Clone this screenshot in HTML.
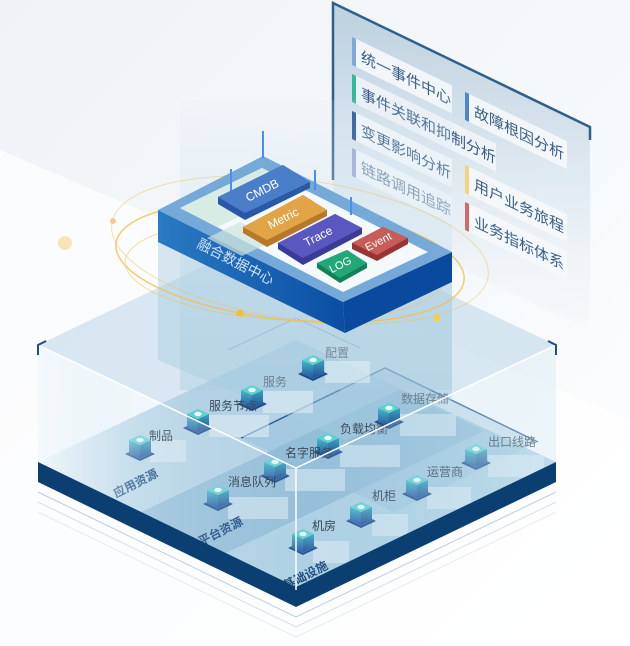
<!DOCTYPE html>
<html><head><meta charset="utf-8">
<style>
html,body{margin:0;padding:0;background:#fff;}
svg{display:block;font-family:"Liberation Sans","Noto Sans CJK SC",sans-serif;}
</style></head>
<body>
<svg width="630" height="646" viewBox="0 0 630 646" xmlns="http://www.w3.org/2000/svg">
<defs>
  <linearGradient id="bg" x1="0" y1="0" x2="1" y2="1">
    <stop offset="0" stop-color="#eef3f7"/><stop offset="0.6" stop-color="#f6f9fb"/><stop offset="1" stop-color="#ffffff"/>
  </linearGradient>
  <linearGradient id="panel" x1="0" y1="0" x2="0" y2="1">
    <stop offset="0" stop-color="#b3cadb"/><stop offset="0.6" stop-color="#e0eaf1"/><stop offset="1" stop-color="#f4f7fa" stop-opacity="0.6"/>
  </linearGradient>
  <linearGradient id="floor" x1="0" y1="0" x2="1" y2="0">
    <stop offset="0" stop-color="#d3e7f2"/><stop offset="0.3" stop-color="#a9cce1"/><stop offset="1" stop-color="#a3cbe0"/>
  </linearGradient>
  <linearGradient id="lface" x1="0" y1="0" x2="1" y2="0">
    <stop offset="0" stop-color="#f4f9fc" stop-opacity="0.9"/><stop offset="0.4" stop-color="#d6e8f2" stop-opacity="0.3"/><stop offset="1" stop-color="#c4deec" stop-opacity="0.1"/>
  </linearGradient>
  <linearGradient id="rface" x1="0" y1="0" x2="1" y2="0">
    <stop offset="0" stop-color="#a9cde2" stop-opacity="0.1"/><stop offset="1" stop-color="#d6ebf3" stop-opacity="0.45"/>
  </linearGradient>
  <linearGradient id="col" x1="0" y1="0" x2="0" y2="1">
    <stop offset="0" stop-color="#dbe9f3" stop-opacity="0.2"/><stop offset="0.5" stop-color="#c7dfee" stop-opacity="0.7"/><stop offset="1" stop-color="#a9cbe0" stop-opacity="0.7"/>
  </linearGradient>
  <linearGradient id="cubeS" x1="0" y1="0" x2="0" y2="1">
    <stop offset="0" stop-color="#45bcc4"/><stop offset="1" stop-color="#2a55a6"/>
  </linearGradient>
  <linearGradient id="cubeR" x1="0" y1="0" x2="0" y2="1">
    <stop offset="0" stop-color="#3aa6bb"/><stop offset="1" stop-color="#244c98"/>
  </linearGradient>
  <linearGradient id="hubL" x1="0" y1="0" x2="1" y2="0">
    <stop offset="0" stop-color="#2a7ac4"/><stop offset="1" stop-color="#0b4ea3"/>
  </linearGradient>
  <g id="node">
    <polygon points="-15,14 0,7 15,14 0,21" fill="#1b4a86"/>
    <polygon points="-13,13 0,7 13,13 0,19" fill="#2d67a6"/>
    <polygon points="-11,0 0,5 0,18 -11,13" fill="url(#cubeS)"/>
    <polygon points="0,5 11,0 11,13 0,18" fill="url(#cubeR)"/>
    <polygon points="-11,0 0,-5 11,0 0,5" fill="#5fd0d0"/>
    <ellipse cx="0" cy="0" rx="3.8" ry="2.2" fill="#eafbfb"/>
  </g>
</defs>

<rect width="630" height="646" fill="url(#bg)"/>
<polygon points="0,150 630,420 630,646 0,646" fill="#ffffff" opacity="0.7"/>

<g fill="none" stroke="#b8cfe0" stroke-width="1">
  <polyline points="38,492 296,617 556,492"/>
  <polyline points="38,502 296,627 556,502" opacity="0.6"/>
  <polyline points="38,512 296,637 556,512" opacity="0.35"/>
</g>

<path d="M333,3 L590,127 L590,310 Q590,330 572,322 L345,212 Q333,206 333,190 Z" fill="url(#panel)" opacity="0.85"/>
<path d="M333,180 L333,3 L590,127 L590,140" fill="none" stroke="#2f5f8c" stroke-width="2.5"/>
<g font-size="15" fill="#3a5f86">
  <g transform="translate(352,37) skewY(25.8)"><rect x="4" y="0" width="96" height="28" fill="#f5f8fb" opacity="0.9"/><rect width="4" height="28" fill="#7fa8dc"/><text x="9" y="20">统一事件中心</text></g>
  <g transform="translate(352,74) skewY(25.8)"><rect x="4" y="0" width="140" height="28" fill="#f5f8fb" opacity="0.75"/><rect width="4" height="28" fill="#35b898"/><text x="9" y="20">事件关联和抑制分析</text></g>
  <g transform="translate(352,111) skewY(25.8)"><rect x="4" y="0" width="96" height="28" fill="#f5f8fb" opacity="0.9"/><rect width="4" height="28" fill="#1d4fa0"/><text x="9" y="20">变更影响分析</text></g>
  <g transform="translate(352,148) skewY(25.8)"><rect x="4" y="0" width="96" height="28" fill="#f5f8fb" opacity="0.9"/><rect width="4" height="28" fill="#9aa6de"/><text x="9" y="20" fill="#6f8aa8">链路调用追踪</text></g>
  <g transform="translate(465,92) skewY(25.8)"><rect x="4" y="0" width="98" height="28" fill="#f5f8fb" opacity="0.9"/><rect width="4" height="28" fill="#4f86d0"/><text x="9" y="20">故障根因分析</text></g>
  <g transform="translate(465,165) skewY(25.8)"><rect x="4" y="0" width="98" height="28" fill="#f5f8fb" opacity="0.9"/><rect width="4" height="28" fill="#f0d57a"/><text x="9" y="20">用户业务旅程</text></g>
  <g transform="translate(465,202) skewY(25.8)"><rect x="4" y="0" width="98" height="28" fill="#f5f8fb" opacity="0.9"/><rect width="4" height="28" fill="#d06a6a"/><text x="9" y="20">业务指标体系</text></g>
</g>

<polygon points="38,345 296,222 556,345 296,468" fill="#c0d9e9" opacity="0.6"/>
<polygon points="38,462 296,340 556,462 296,587" fill="url(#floor)"/>
<polygon points="141,512 226,553 484,431 399,390" fill="#86b3d0" opacity="0.6"/>
<polygon points="38,462 141,512 399,390 296,340" fill="#c4dcea" opacity="0.4"/>
<polygon points="226,553 296,587 556,462 484,431" fill="#b4d6e8" opacity="0.5"/>
<polygon points="241,438 385,368 538,442 394,512" fill="#95bfd9" opacity="0.45"/>
<polyline points="241,438 385,368 538,442" fill="none" stroke="#2a5f92" stroke-width="1.5"/>
<polyline points="228,350 296,318 360,348" fill="none" stroke="#2a5f92" stroke-width="1" opacity="0.5"/>

<rect x="180" y="100" width="272" height="290" fill="url(#col)" opacity="0.6"/>
<polygon points="158,240 345,333 452,282 452,400 345,440 158,360" fill="#a9cbe0" opacity="0.45"/>

<g font-size="12" fill="#3b4b5c">
  <g fill="#e4f0f7" opacity="0.55">
    <rect x="325" y="361" width="45" height="22"/><rect x="263" y="391" width="50" height="22"/>
    <rect x="209" y="415" width="60" height="22"/><rect x="150" y="440" width="36" height="22"/>
    <rect x="400" y="414" width="56" height="22"/><rect x="340" y="445" width="60" height="22"/>
    <rect x="285" y="469" width="60" height="22"/><rect x="228" y="497" width="60" height="22"/>
    <rect x="488" y="455" width="56" height="22"/><rect x="427" y="487" width="44" height="22"/>
    <rect x="372" y="514" width="36" height="22"/><rect x="313" y="541" width="36" height="22"/>
  </g>
  <use href="#node" x="313" y="360"/><text x="325" y="357" fill="#7a8a9a">配置</text>
  <use href="#node" x="252" y="390"/><text x="263" y="386" fill="#6f8090">服务</text>
  <use href="#node" x="198" y="414"/><text x="209" y="410">服务节点</text>
  <use href="#node" x="140" y="440"/><text x="149" y="440" fill="#1f2d3a">制品</text>
  <use href="#node" x="389" y="408"/><text x="401" y="403" fill="#6f8090">数据存储</text>
  <use href="#node" x="328" y="438"/><text x="340" y="433">负载均衡</text>
  <use href="#node" x="275" y="462"/><text x="285" y="457">名字服务</text>
  <use href="#node" x="218" y="490"/><text x="228" y="486" fill="#1f2d3a">消息队列</text>
  <use href="#node" x="476" y="449"/><text x="488" y="446" fill="#2b3b4c">出口线路</text>
  <use href="#node" x="417" y="480"/><text x="427" y="476" fill="#2b3b4c">运营商</text>
  <use href="#node" x="361" y="507"/><text x="372" y="500" fill="#2b3b4c">机柜</text>
  <use href="#node" x="303" y="534"/><text x="312" y="530" fill="#1f2d3a">机房</text>
</g>
<g font-size="12" font-weight="bold" fill="#0e3f74">
  <text transform="translate(116,498) rotate(-27)">应用资源</text>
  <text transform="translate(201,546) rotate(-27)">平台资源</text>
  <text transform="translate(286,590) rotate(-27)">基础设施</text>
</g>

<polygon points="38,345 296,468 296,587 38,462" fill="url(#lface)"/>
<polygon points="296,468 556,345 556,462 296,587" fill="url(#rface)"/>
<polygon points="38,462 296,587 556,462 556,482 296,607 38,482" fill="#0b3f72"/>
<polyline points="38,345 296,468 556,345" fill="none" stroke="#ffffff" stroke-width="1.5"/>
<line x1="296" y1="468" x2="296" y2="590" stroke="#ffffff" stroke-width="1.5"/>
<polyline points="46,341 38,345 38,355" fill="none" stroke="#1d4f86" stroke-width="2"/>
<polyline points="548,341 556,345 556,355" fill="none" stroke="#1d4f86" stroke-width="2"/>

<g fill="none" stroke="#f2c14e">
  <ellipse cx="290" cy="262" rx="175" ry="58" transform="rotate(6 290 262)" stroke-width="1.5" opacity="0.8"/>
  <ellipse cx="300" cy="250" rx="190" ry="70" transform="rotate(8 300 250)" stroke-width="1" opacity="0.45"/>
  <ellipse cx="285" cy="270" rx="160" ry="50" transform="rotate(3 285 270)" stroke-width="1" opacity="0.5"/>
</g>
<circle cx="65" cy="243" r="7" fill="#f5dc9a" opacity="0.7"/>
<circle cx="113" cy="221" r="3" fill="#f2cf80"/>
<circle cx="240" cy="313" r="3.5" fill="#f0c030"/>
<circle cx="437" cy="318" r="3.5" fill="#f5d040"/>

<polygon points="158,210 343,302 345,333 158,242" fill="url(#hubL)"/>
<polygon points="343,302 452,252 452,282 345,333" fill="#0a4a9e"/>
<polygon points="158,210 263,156 452,252 343,302" fill="#74a9d8"/>
<polygon points="180,208 262,168 428,252 343,292" fill="#f4f9fc"/>
<polygon points="180,208 262,168 300,187 218,227" fill="#d8ece6"/>
<polygon points="207,238 240,222 275,240 242,256" fill="#cfe4dd" opacity="0.7"/>
<g stroke="#4a8ef0" stroke-width="2">
  <line x1="263" y1="131" x2="263" y2="158"/><line x1="231" y1="169" x2="231" y2="200"/>
  <line x1="315" y1="170" x2="315" y2="190"/><line x1="351" y1="197" x2="351" y2="215"/>
</g>
<polygon points="218,197 283,165 310,182 310,188 245,220 218,204" fill="#2a58a8"/>
<polygon points="218,197 283,165 310,182 245,213" fill="#4b7ec8"/>
<polygon points="243,227 303,195 327,210 327,216 267,247 243,233" fill="#b8782c"/>
<polygon points="243,227 303,195 327,210 267,240" fill="#e3a448"/>
<polygon points="278,243 335,214 362,228 362,234 303,265 278,249" fill="#3a3a98"/>
<polygon points="278,243 335,214 362,228 303,258" fill="#5a58c0"/>
<polygon points="352,243 383,227 408,238 408,244 377,261 352,249" fill="#983434"/>
<polygon points="352,243 383,227 408,238 377,255" fill="#c85c58"/>
<polygon points="317,263 347,250 367,263 367,268 340,283 317,268" fill="#138058"/>
<polygon points="317,263 347,250 367,263 340,278" fill="#22a878"/>
<g fill="#ffffff" font-size="12" text-anchor="middle">
  <text transform="translate(264,194) rotate(-27)">CMDB</text>
  <text transform="translate(285,222) rotate(-27)">Metric</text>
  <text transform="translate(320,240) rotate(-27)">Trace</text>
  <text transform="translate(380,245) rotate(-27)" font-size="11">Event</text>
  <text transform="translate(342,268) rotate(-27)" font-size="11">LOG</text>
</g>
<text transform="translate(196,247) rotate(27)" font-size="14" fill="#cfe3f6">融合数据中心</text>
</svg>
</body></html>
